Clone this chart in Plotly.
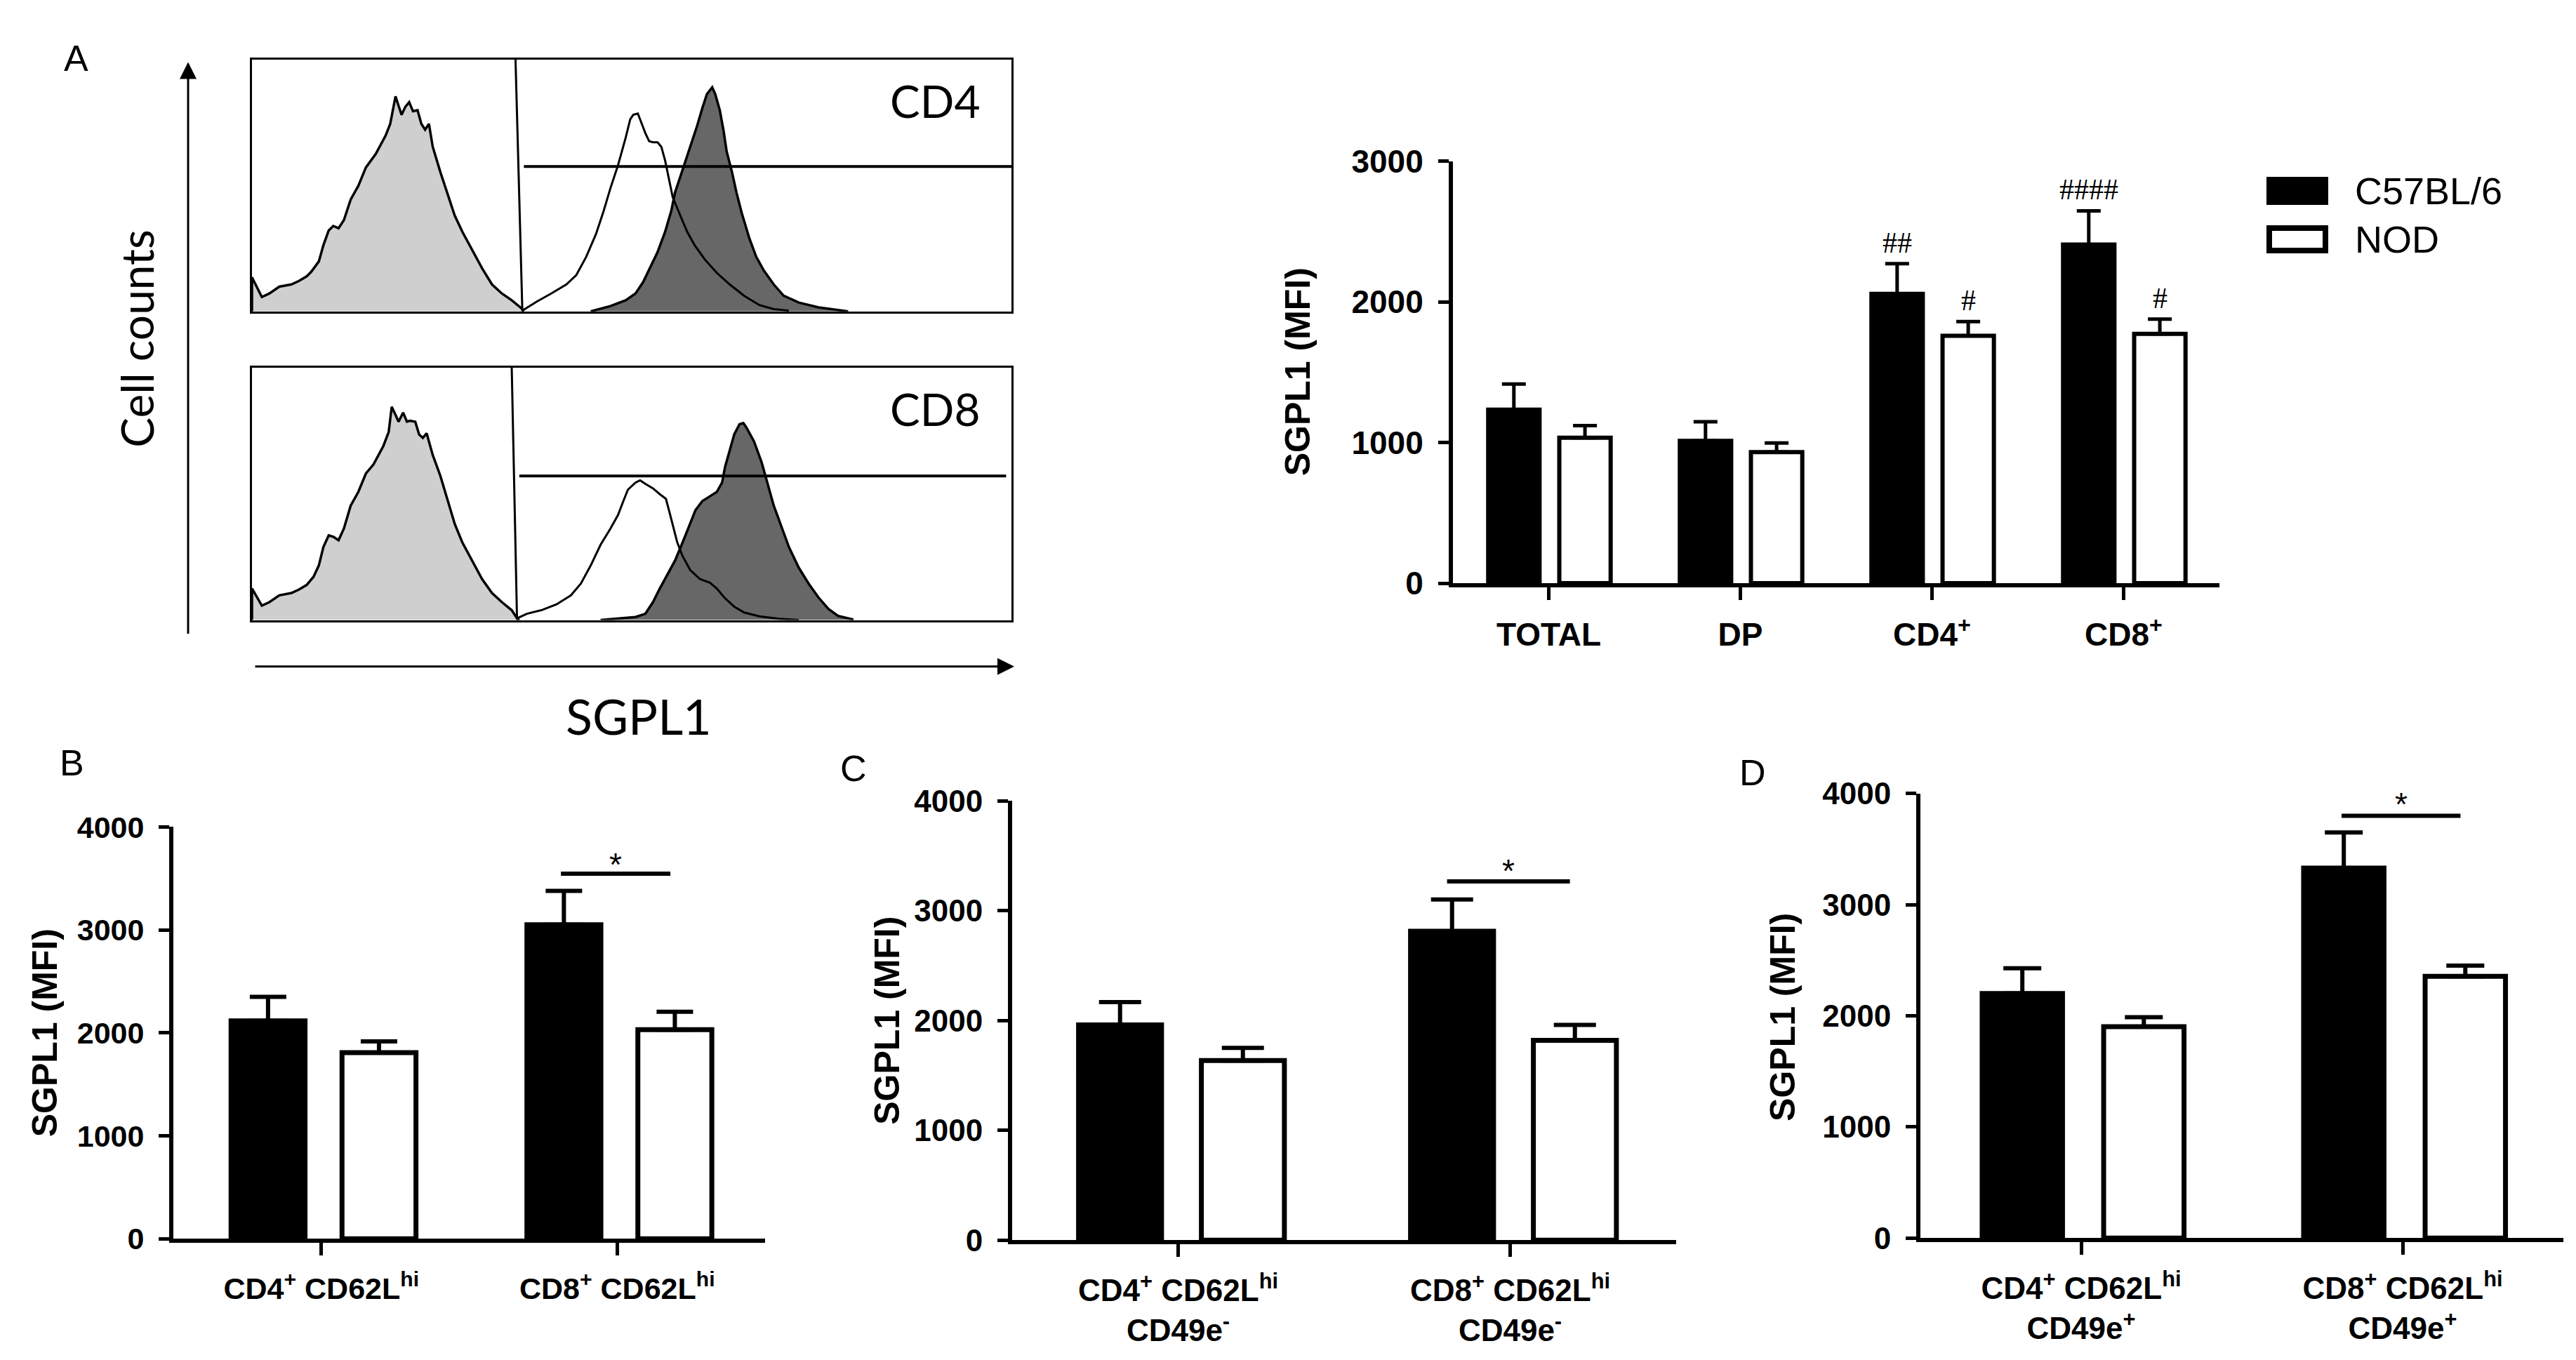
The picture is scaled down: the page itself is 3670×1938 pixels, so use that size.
import plotly.graph_objects as go

W, H = 3670, 1938

# ---------------- panel A : flow histograms ----------------
# x = SGPL1 channel (0-1000 across the box), y = cell counts (% of box height)
cd4_iso_x = [0, 0, 13, 23, 36, 52, 62, 72, 78, 88, 94, 101, 107, 114, 121, 130, 140, 150, 163, 176,
             182, 186, 189, 193, 197, 202, 207, 212, 218, 223, 228, 233, 238, 248, 257, 267, 277, 290,
             303, 316, 329, 342, 355, 358]
cd4_iso_y = [0, 13.5, 5.7, 7.1, 9.8, 10.7, 12.1, 13.9, 15.7, 19.8, 26.2, 32.1, 33.9, 33.0, 36.2, 44.4,
             49.8, 57.1, 62.5, 69.8, 74.4, 80.7, 85.3, 81.6, 78.0, 81.2, 83.0, 79.4, 79.8, 74.4, 72.1,
             74.4, 65.3, 55.3, 47.1, 38.0, 31.6, 24.4, 17.1, 10.7, 7.1, 4.4, 1.2, 0]
cd4_nod_x = [358, 375, 394, 414, 427, 440, 453, 463, 472, 482, 492, 498, 502, 508, 511, 518, 523, 528,
             534, 539, 544, 549, 554, 564, 573, 583, 596, 612, 629, 648, 668, 687, 707]
cd4_nod_y = [0.7, 3.9, 7.1, 10.7, 14.4, 21.6, 30.7, 39.8, 48.9, 58.0, 68.9, 76.2, 78.0, 78.5, 76.2,
             70.7, 67.5, 67.1, 67.1, 65.3, 59.8, 52.5, 45.3, 38.0, 31.6, 26.2, 20.7, 15.3, 10.7, 6.2,
             2.5, 0.9, 0.3]
cd4_b6_x = [446, 472, 492, 505, 515, 524, 534, 544, 552, 557, 567, 577, 586, 593, 599, 606, 610, 616,
            621, 625, 632, 638, 645, 655, 664, 674, 687, 700, 720, 746, 772, 785]
cd4_b6_y = [0, 2.1, 4.4, 7.1, 11.6, 17.1, 23.5, 31.6, 39.8, 47.1, 56.2, 65.3, 73.5, 80.7, 86.2, 88.9,
            86.2, 79.8, 71.6, 63.5, 55.3, 47.1, 38.9, 28.9, 21.6, 16.2, 10.7, 6.2, 3.5, 1.6, 0.5, 0]

cd8_iso_x = [0, 0, 13, 23, 36, 52, 62, 72, 81, 88, 94, 101, 107, 114, 121, 130, 140, 150, 160, 173,
             180, 184, 189, 193, 199, 204, 208, 215, 220, 225, 230, 238, 248, 257, 267, 277, 290, 303,
             316, 329, 342, 349, 352]
cd8_iso_y = [0, 12.5, 5.7, 7.1, 9.8, 10.7, 12.1, 13.9, 17.1, 21.6, 28.9, 33.5, 33.0, 31.6, 36.2, 45.3,
             50.7, 58.0, 61.6, 68.9, 74.4, 84.4, 81.2, 78.5, 82.1, 78.5, 78.9, 78.5, 73.5, 72.1, 73.9,
             65.3, 57.1, 48.0, 38.0, 30.7, 23.5, 16.2, 10.7, 7.1, 3.9, 0.7, 0]
cd8_nod_x = [349, 362, 381, 401, 420, 433, 446, 459, 472, 482, 489, 495, 505, 511, 518, 528, 537, 545,
             549, 554, 560, 567, 577, 590, 603, 612, 622, 635, 648, 668, 694, 720]
cd8_nod_y = [0.7, 2.5, 3.9, 6.2, 9.8, 14.4, 21.6, 29.8, 36.2, 41.6, 47.1, 51.6, 54.4, 55.3, 53.9, 52.1,
             49.8, 48.0, 43.5, 38.0, 30.7, 25.3, 19.8, 16.2, 14.8, 12.5, 8.9, 5.3, 3.0, 1.5, 0.5, 0]
cd8_b6_x = [459, 505, 518, 528, 537, 547, 557, 567, 577, 584, 593, 603, 612, 619, 623, 629, 635, 642,
            647, 651, 661, 671, 679, 687, 697, 707, 720, 733, 746, 759, 772, 792]
cd8_b6_y = [0, 1.2, 2.5, 7.1, 12.5, 18.0, 23.5, 30.7, 38.0, 43.5, 47.1, 48.9, 50.7, 54.4, 60.7, 67.1,
            73.5, 77.5, 78.0, 76.2, 70.7, 62.5, 53.5, 45.3, 37.1, 28.9, 20.7, 14.4, 8.9, 4.4, 1.6, 0.2]

# gates (vertical marker bottom x, top x; horizontal marker x0, x1, y)
cd4_gate = [356, 347, 358, 1000, 57.5]
cd8_gate = [349, 342, 352, 993, 57.0]

# ---------------- panel A : bar chart ----------------
groups_a = ["TOTAL", "DP", "CD4<sup>+</sup>", "CD8<sup>+</sup>"]
b6_a = [1234, 1011, 2057, 2407]
b6_a_sem = [182, 137, 214, 240]
nod_a = [1034, 932, 1758, 1772]
nod_a_sem = [86, 65, 102, 105]
b6_a_marks = ["", "", "##", "####"]
nod_a_marks = ["", "", "#", "#"]

# ---------------- panels B, C, D ----------------
groups_b = ["CD4<sup>+</sup> CD62L<sup>hi</sup>", "CD8<sup>+</sup> CD62L<sup>hi</sup>"]
b6_b = [2116, 3051]
b6_b_sem = [234, 329]
nod_b = [1808, 2032]
nod_b_sem = [109, 174]

groups_c = ["CD4<sup>+</sup> CD62L<sup>hi</sup><br>CD49e<sup>-</sup>",
            "CD8<sup>+</sup> CD62L<sup>hi</sup><br>CD49e<sup>-</sup>"]
b6_c = [1960, 2814]
b6_c_sem = [209, 290]
nod_c = [1636, 1820]
nod_c_sem = [115, 140]

groups_d = ["CD4<sup>+</sup> CD62L<sup>hi</sup><br>CD49e<sup>+</sup>",
            "CD8<sup>+</sup> CD62L<sup>hi</sup><br>CD49e<sup>+</sup>"]
b6_d = [2201, 3329]
b6_d_sem = [227, 320]
nod_d = [1902, 2356]
nod_d_sem = [86, 96]

sig_y = [3546, 3268, 3800]      # height of the "*" bar in B, C, D
star_y = [3705, 3425, 3966]


def px(x):
    return x / W


def py(y):
    return 1 - y / H


SANS = "Liberation Sans"
HIST = "Lato"

fig = go.Figure()

# histograms
hist_sets = [
    ("x", "y", cd4_iso_x, cd4_iso_y, cd4_b6_x, cd4_b6_y, cd4_nod_x, cd4_nod_y),
    ("x2", "y2", cd8_iso_x, cd8_iso_y, cd8_b6_x, cd8_b6_y, cd8_nod_x, cd8_nod_y),
]
for xa, ya, ix, iy, bx, by, nx, ny in hist_sets:
    fig.add_trace(go.Scatter(x=ix, y=iy, xaxis=xa, yaxis=ya, mode="lines", fill="tozeroy",
                             fillcolor="#cfcfcf", line=dict(color="black", width=3.5)))
    fig.add_trace(go.Scatter(x=bx, y=by, xaxis=xa, yaxis=ya, mode="lines", fill="tozeroy",
                             fillcolor="#676767", line=dict(color="black", width=3.5)))
    fig.add_trace(go.Scatter(x=nx, y=ny, xaxis=xa, yaxis=ya, mode="lines",
                             line=dict(color="black", width=3)))

# bar panels: (axis suffix, groups, b6, b6 sem, nod, nod sem, width, black offset, white offset, cap, line)
bar_panels = [
    ("3", groups_a, b6_a, b6_a_sem, nod_a, nod_a_sem, 0.268, -0.316, 0.055, 17, 6),
    ("4", groups_b, b6_b, b6_b_sem, nod_b, nod_b_sem, 0.25, -0.305, 0.07, 26, 7),
    ("5", groups_c, b6_c, b6_c_sem, nod_c, nod_c_sem, 0.25, -0.30, 0.07, 30, 7),
    ("6", groups_d, b6_d, b6_d_sem, nod_d, nod_d_sem, 0.25, -0.308, 0.07, 27, 7),
]
for s, groups, b6, b6s, nod, nods, bw, off_b, off_w, cap, lw in bar_panels:
    idx = list(range(len(groups)))
    fig.add_trace(go.Bar(
        x=idx, y=b6, xaxis="x" + s, yaxis="y" + s, width=bw, offset=off_b,
        marker=dict(color="black", line=dict(color="black", width=lw)),
        error_y=dict(type="data", array=b6s, arrayminus=[0] * len(b6), symmetric=False,
                     color="black", thickness=lw - 1, width=cap)))
    fig.add_trace(go.Bar(
        x=idx, y=nod, xaxis="x" + s, yaxis="y" + s, width=bw, offset=off_w,
        marker=dict(color="white", line=dict(color="black", width=lw)),
        error_y=dict(type="data", array=nods, arrayminus=[0] * len(nod), symmetric=False,
                     color="black", thickness=lw - 1, width=cap)))

# ---------------- axes ----------------
box = dict(showline=True, mirror=True, linecolor="black", linewidth=3, showticklabels=False,
           ticks="", showgrid=False, zeroline=False, fixedrange=True)
layout = dict(
    xaxis=dict(box, domain=[px(351), px(1433)], range=[0, 1000], anchor="y"),
    yaxis=dict(box, domain=[py(421), py(52)], range=[0, 100], anchor="x"),
    xaxis2=dict(box, domain=[px(351), px(1433)], range=[0, 1000], anchor="y2"),
    yaxis2=dict(box, domain=[py(873), py(503)], range=[0, 100], anchor="x2"),
)

bar_domains = {
    "3": ([2062, 3154], [819, 201], 3000, groups_a, 46),
    "4": ([239, 1082], [1779, 1176], 4000, groups_b, 43),
    "5": ([1434, 2380], [1781, 1138], 4000, groups_c, 44),
    "6": ([2728, 3644], [1778, 1127], 4000, groups_d, 44),
}
for s, (xd, yd, ymax, groups, fs) in bar_domains.items():
    layout["xaxis" + s] = dict(
        domain=[px(xd[0]), px(xd[1])], range=[-0.5, len(groups) - 0.5], anchor="y" + s,
        showline=True, linecolor="black", linewidth=6, ticks="outside", ticklen=18,
        tickwidth=5, tickcolor="black", tickvals=list(range(len(groups))), ticktext=groups,
        showgrid=False, zeroline=False, ticklabelstandoff=10,
        tickfont=dict(family=SANS, size=fs, color="black", weight="bold"))
    layout["yaxis" + s] = dict(
        domain=[py(yd[0]), py(yd[1])], range=[0, ymax], anchor="x" + s,
        showline=True, linecolor="black", linewidth=6, ticks="outside", ticklen=15,
        tickwidth=5, tickcolor="black", tickvals=list(range(0, ymax + 1, 1000)),
        showgrid=False, zeroline=False, ticklabelstandoff=12,
        tickfont=dict(family=SANS, size=fs, color="black", weight="bold"))

fig.update_layout(**layout)

# ---------------- shapes ----------------
shapes = []
for (xa, ya), g in [(("x", "y"), cd4_gate), (("x2", "y2"), cd8_gate)]:
    shapes.append(dict(type="line", xref=xa, yref=ya, x0=g[1], y0=100, x1=g[0], y1=0,
                       line=dict(color="black", width=3)))
    shapes.append(dict(type="line", xref=xa, yref=ya, x0=g[2], y0=g[4], x1=g[3], y1=g[4],
                       line=dict(color="black", width=4)))

for s, y in zip(["4", "5", "6"], sig_y):
    shapes.append(dict(type="line", xref="x" + s, yref="y" + s, x0=0.81, x1=1.18, y0=y, y1=y,
                       line=dict(color="black", width=6)))

# legend boxes
shapes.append(dict(type="rect", xref="paper", yref="paper", x0=px(3221), x1=px(3309),
                   y0=py(265), y1=py(224), fillcolor="black", line=dict(color="black", width=0)))
shapes.append(dict(type="rect", xref="paper", yref="paper", x0=px(3225), x1=px(3305),
                   y0=py(332), y1=py(299), fillcolor="white", line=dict(color="black", width=8)))

# ---------------- annotations ----------------
ann = []


def paper_text(text, x, y, size, family=SANS, angle=0, bold=False, xanchor="center"):
    font = dict(family=family, size=size, color="black")
    if bold:
        font["weight"] = "bold"
    return dict(text=text, x=px(x), y=py(y), xref="paper", yref="paper", showarrow=False,
                xanchor=xanchor, yanchor="middle", textangle=angle, font=font)


for text, x, y in [("A", 100, 50), ("B", 94, 1082), ("C", 1208, 1090), ("D", 2489, 1096)]:
    ann.append(paper_text(text, x, y, 52))

for x, y in [(1841, 510), (56, 1478), (1256, 1460), (2532, 1455)]:
    ann.append(paper_text("SGPL1 (MFI)", x, y, 50, angle=-90, bold=True))

ann.append(paper_text("Cell counts", 187, 461, 64, family=HIST, angle=-90))
ann.append(paper_text("SGPL1", 902, 1013, 70, family=HIST))
for xa, ya, t in [("x", "y", "CD4"), ("x2", "y2", "CD8")]:
    ann.append(dict(text=t, x=900, y=83.5, xref=xa, yref=ya, showarrow=False,
                    xanchor="center", yanchor="middle",
                    font=dict(family=HIST, size=64, color="black")))

# axis arrows
ann.append(dict(text="", x=px(260), y=py(56), xref="paper", yref="paper", showarrow=True,
                ax=0, ay=816, axref="pixel", ayref="pixel", arrowhead=2, arrowsize=1.6,
                arrowwidth=3, arrowcolor="black", standoff=0))
ann.append(dict(text="", x=px(1437), y=py(941), xref="paper", yref="paper", showarrow=True,
                ax=-1083, ay=0, axref="pixel", ayref="pixel", arrowhead=2, arrowsize=1.6,
                arrowwidth=3, arrowcolor="black", standoff=0))

# legend text
for t, y in [("C57BL/6", 245), ("NOD", 315)]:
    ann.append(paper_text(t, 3345, y, 54, xanchor="left"))

# "#" marks over panel A
hash_font = dict(family="Liberation Serif", size=42, color="black")
for i, (mb, mw) in enumerate(zip(b6_a_marks, nod_a_marks)):
    if mb:
        ann.append(dict(text=mb, x=i - 0.182, y=b6_a[i] + b6_a_sem[i] + 150, xref="x3", yref="y3",
                        showarrow=False, xanchor="center", yanchor="middle", font=hash_font))
    if mw:
        ann.append(dict(text=mw, x=i + 0.189, y=nod_a[i] + nod_a_sem[i] + 150, xref="x3", yref="y3",
                        showarrow=False, xanchor="center", yanchor="middle", font=hash_font))

# stars for B, C, D
for s, y in zip(["4", "5", "6"], star_y):
    ann.append(dict(text="*", x=0.995, y=y, xref="x" + s, yref="y" + s, showarrow=False,
                    xanchor="center", yanchor="middle", yshift=-10,
                    font=dict(family=SANS, size=46, color="black")))

fig.update_layout(
    width=W, height=H, margin=dict(l=0, r=0, t=0, b=0),
    paper_bgcolor="white", plot_bgcolor="white", showlegend=False,
    shapes=shapes, annotations=ann,
)

fig.write_html("out.html")
